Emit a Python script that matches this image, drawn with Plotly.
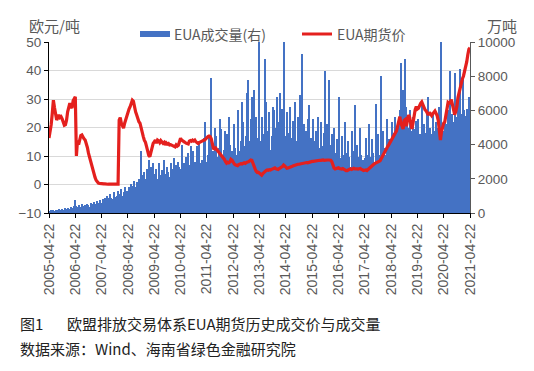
import numpy as np
import pandas as pd
import plotly.graph_objects as go

# ---------------- data (semi-monthly samples, from 2005-04-22) ----------------
start_date = "2005-04-22"

price = [  # EUA期货价, 欧元/吨
    16.3, 18.5, 21, 25, 29.6, 27, 24, 22.6, 23.5, 24.4, 23.5, 23.8, 23, 22.2, 20.8, 21, 22.6, 25.5, 27.5, 28.5, 27.5, 26.8, 29.4, 30,
    30.8, 10, 15.5, 14, 16.5, 17.2, 17.4, 16.5, 16, 15.6, 14.5, 13, 11, 9.5, 7.8, 6.2, 5, 3.7, 2.5, 1.5, 0.8, 0.5, 0.4, 0.3,
    0.3, 0.2, 0.2, 0.2, 0.1, 0.1, 0.1, 0.1, 0.1, 0.1, 0.1, 0.1, 0.1, 0.1, 0.1, 0.1, 22.6, 23.5, 21.5, 20.5, 19.8, 21.5, 23, 23.8,
    25.5, 26.5, 27.3, 28.5, 29.6, 29.2, 27, 25.5, 24.4, 23, 22, 21.5, 19.6, 18, 16.8, 15.5, 14.8, 13.3, 11, 10.2, 9.8, 11.5, 13, 14.4,
    15, 15.6, 14.5, 15.6, 15.3, 14.7, 15.4, 15, 14.5, 14.8, 13.9, 14.6, 14.2, 14.4, 13.9, 14, 13.8, 13.5, 13.3, 13.2, 13.9, 13.5, 13.8, 15,
    16.2, 15.6, 15.2, 15, 14.8, 14.5, 14.4, 14.2, 15.2, 15.4, 15.2, 15.6, 15.3, 15.6, 15, 14.6, 14.4, 14.7, 15, 15, 15.3, 15.5, 15.6, 16,
    16.5, 16.8, 17, 16.8, 16, 14, 12.7, 12.5, 12.8, 12.3, 11.8, 11.2, 11, 10.5, 9.8, 9.3, 8.8, 8, 7.5, 7.8, 7.6, 7.9, 8.8, 8.5,
    7.5, 7.2, 6.9, 6.8, 6.6, 7, 7.2, 7.3, 7.2, 7.5, 7.6, 7.4, 7.8, 7.9, 8, 8.3, 8.6, 8.5, 7.2, 6.5, 5.5, 4.6, 4.2, 4.3,
    3.9, 3.6, 3.3, 3.8, 4.3, 4.6, 4.9, 5.1, 5, 5.2, 5.1, 5.3, 5.5, 5.6, 5.8, 5.5, 5.4, 5.3, 5.6, 6, 6.1, 6.3, 6.8, 6.5,
    5.9, 5.7, 5.8, 5.9, 6.1, 6.2, 6.4, 6.6, 6.8, 6.9, 7, 7.1, 7.1, 7.2, 7.3, 7.4, 7.5, 7.5, 7.6, 7.7, 7.6, 7.8, 8, 8,
    8.1, 8.1, 8.2, 8.2, 8.3, 8.3, 8.4, 8.5, 8.5, 8.6, 8.6, 8.5, 8.6, 8.7, 8.6, 8.6, 8.5, 8.5, 8.0, 6.5, 5.8, 5.5, 5.7, 5.6,
    5.9, 5.6, 5.5, 5.4, 5.6, 5.3, 5, 4.9, 4.9, 5.2, 5.4, 5.5, 5.3, 5.6, 5.7, 5.5, 5.6, 5.5, 5.4, 5.5, 5.6, 5.3, 5, 4.9,
    5, 5.1, 4.9, 5.3, 5.8, 6.2, 6.5, 6.8, 7, 7.3, 7.5, 7.6, 7.8, 8, 8.3, 9, 9.8, 10.5, 11.2, 12.3, 13, 13.4, 14, 14.8,
    15.5, 16.2, 16.8, 17.5, 18.2, 18.8, 20.5, 22.5, 23.8, 21.5, 20, 19.5, 22.5, 22.8, 20.5, 22.5, 24.4, 23.5, 21.5, 19.5, 21.5, 25, 26.3, 27.3,
    26.5, 26.8, 27.9, 28.5, 29, 27.8, 26.8, 26.2, 25.8, 25.2, 24.4, 25.3, 24.9, 24.2, 24.8, 25.5, 25.8, 25, 24.2, 22.5, 19.5, 15.6, 18.5, 20.5,
    21.5, 22, 25, 27.3, 28.8, 28.5, 28.6, 29.8, 28, 26, 24.5, 25.5, 27.3, 30.5, 32.5, 33.5, 35.5, 37, 38, 39.5, 41.5, 43, 45.5, 47.5, 48,
]

volume = [  # EUA成交量, 万吨
    80, 120, 150, 100, 180, 140, 200, 160, 120, 220, 180, 150, 250, 200, 170, 280, 220, 300, 250, 200, 350, 300, 280, 400,
    760, 400, 350, 450, 300, 380, 500, 420, 350, 480, 400, 550, 450, 380, 600, 500, 420, 650, 550, 480, 700, 600, 520, 750,
    600, 800, 700, 900, 650, 1000, 850, 750, 1100, 900, 800, 1200, 950, 700, 1000, 1300, 900, 1100, 1400, 1000, 1200, 1500, 1100, 1300,
    1200, 1500, 1300, 1700, 1400, 1600, 1900, 1500, 1800, 1400, 2000, 1700, 3600, 2200, 1800, 2400, 2000, 2600, 2300, 3100, 2200, 2700, 2400, 2900,
    2300, 1800, 2600, 2000, 2900, 1700, 2200, 2500, 1900, 3100, 2300, 2000, 2700, 2400, 2100, 2900, 2300, 2600, 3200, 2400, 2800, 2500, 3000, 2700,
    2600, 4000, 2300, 2900, 2500, 3300, 2200, 3500, 2400, 2800, 3900, 3600, 2300, 3000, 2600, 3900, 2400, 4200, 2900, 2500, 3100, 4400, 5300, 2800,
    3000, 3400, 4500, 3200, 7900, 3100, 3600, 5000, 4500, 3300, 2700, 3800, 5500, 4900, 3400, 2900, 3700, 4800, 4600, 3500, 5600, 4000, 3300, 3600,
    3500, 5200, 3800, 3400, 6000, 3600, 3300, 4200, 6500, 5300, 3900, 3500, 4500, 7000, 7800, 4200, 5500, 6800, 4300, 7200, 4000, 5600, 3800, 4400,
    10000, 4200, 5600, 4600, 4000, 9000, 6500, 3900, 4800, 5900, 3700, 4500, 6200, 6000, 4400, 5000, 6800, 4600, 5300, 7000, 4700, 6100, 10000, 4500,
    4300, 5900, 4700, 4100, 6200, 3800, 4400, 5400, 6500, 4200, 3700, 5600, 4100, 6900, 4500, 9300, 4200, 5200, 4800, 4000, 5500, 6300, 3900, 4400,
    3900, 5500, 4200, 3700, 4800, 5600, 3800, 3400, 5300, 3600, 3900, 4700, 8300, 3800, 5200, 7800, 4000, 3400, 4600, 3300, 5000, 3500, 3200, 4300,
    3400, 6800, 3200, 4500, 2900, 3400, 5300, 2800, 3500, 4200, 3300, 2700, 4800, 2900, 3600, 6300, 3100, 4000, 3300, 3000, 5000, 3400, 3100, 2900,
    3200, 4400, 3400, 3000, 5200, 3300, 2900, 4300, 3500, 3000, 6400, 3200, 4600, 3400, 3100, 8000, 3600, 4800, 3800, 3400, 5500, 3700, 4300, 3900,
    4100, 5300, 3900, 4700, 5600, 5000, 4600, 5400, 6000, 8800, 6500, 7200, 6000, 9000, 6200, 5200, 5000, 6000, 4800, 4200, 5600, 4300, 4900, 5400,
    4400, 5500, 4600, 4200, 6300, 4500, 5200, 4700, 4300, 6000, 6800, 4400, 5000, 4600, 5800, 4800, 4500, 5300, 5000, 4600, 6200, 4900, 10000, 4700,
    4800, 5500, 5200, 4600, 6000, 4500, 8300, 4900, 5800, 5300, 8200, 5000, 5600, 6500, 5500, 8400, 5200, 5800, 8000, 6000, 5700, 6100, 5900, 6800, 6000,
]

tick_years = list(range(2005, 2022))
tick_labels = [f"{y}-04-22" for y in tick_years]

price_ticks = [-10, 0, 10, 20, 30, 40, 50]
volume_ticks = [0, 2000, 4000, 6000, 8000, 10000]

# ---------------- figure ----------------
step_days = 365.25 / 24
dates = pd.Timestamp(start_date) + pd.to_timedelta(np.arange(len(price)) * step_days, unit="D")
bar_width_ms = step_days * 86400000

W, H = 534, 371
L, R, T, B = 49, 470, 42, 213  # plot area in pixels


def px_x(p):
    return (p - L) / (R - L)


def px_y(p):
    return (B - p) / (B - T)


GRAY = "#595959"
CJK = "Noto Sans CJK SC"
NUM = "Liberation Sans, Arial, sans-serif"

fig = go.Figure()
fig.add_trace(go.Bar(
    x=dates, y=volume, yaxis="y", name="EUA成交量(右)",
    marker=dict(color="#4472C4", line=dict(width=0)),
    width=bar_width_ms, showlegend=False,
))
fig.add_trace(go.Scatter(
    x=dates, y=price, yaxis="y2", mode="lines", name="EUA期货价",
    line=dict(color="#E4201E", width=3.2), showlegend=False,
))

fig.update_layout(
    width=W, height=H,
    margin=dict(l=L, r=W - R, t=T, b=H - B, pad=0),
    paper_bgcolor="white", plot_bgcolor="white",
    bargap=0,
    xaxis=dict(
        type="date", range=[tick_labels[0], tick_labels[-1]],
        tickvals=tick_labels, ticktext=tick_labels, tickangle=-90,
        ticks="outside", ticklen=4, tickcolor="#000", tickwidth=1,
        showline=True, linecolor="#000", linewidth=1, showgrid=False,
        tickfont=dict(family=NUM, size=14, color=GRAY),
    ),
    yaxis=dict(
        side="right", range=[0, 10000], tickvals=volume_ticks,
        ticktext=[str(v) for v in volume_ticks],
        showgrid=False, zeroline=False, showline=True, linecolor=GRAY, linewidth=1,
        ticks="outside", ticklen=4, tickcolor=GRAY,
        tickfont=dict(family=NUM, size=13.5, color=GRAY),
    ),
    yaxis2=dict(
        overlaying="y", side="left", range=[-10, 50], tickvals=price_ticks,
        showgrid=True, gridcolor="#D9D9D9", gridwidth=1, zeroline=False,
        showline=True, linecolor="#000", linewidth=1,
        ticks="outside", ticklen=4, tickcolor="#000",
        tickfont=dict(family=NUM, size=13.5, color=GRAY),
    ),
)

annotations = [
    dict(text="欧元/吨", x=px_x(27), y=px_y(25), xanchor="left", yanchor="middle",
         font=dict(family=CJK, size=15, color=GRAY)),
    dict(text="万吨", x=px_x(485), y=px_y(25), xanchor="left", yanchor="middle",
         font=dict(family=CJK, size=15, color=GRAY)),
    dict(text="EUA成交量(右)", x=px_x(172), y=px_y(34), xanchor="left", yanchor="middle",
         font=dict(family=CJK, size=14, color=GRAY)),
    dict(text="EUA期货价", x=px_x(335), y=px_y(34), xanchor="left", yanchor="middle",
         font=dict(family=CJK, size=14, color=GRAY)),
    dict(text="图1", x=px_x(18), y=px_y(323), xanchor="left", yanchor="middle",
         font=dict(family=CJK, size=15, color="#222")),
    dict(text="欧盟排放交易体系EUA期货历史成交价与成交量", x=px_x(65), y=px_y(323),
         xanchor="left", yanchor="middle", font=dict(family=CJK, size=15, color="#222")),
    dict(text="数据来源：Wind、海南省绿色金融研究院", x=px_x(18), y=px_y(348),
         xanchor="left", yanchor="middle", font=dict(family=CJK, size=15, color="#222")),
]
for a in annotations:
    a.update(xref="paper", yref="paper", showarrow=False)
fig.update_layout(annotations=annotations)

fig.update_layout(shapes=[
    dict(type="rect", xref="paper", yref="paper", x0=px_x(140), x1=px_x(170),
         y0=px_y(37), y1=px_y(31), fillcolor="#4472C4", line=dict(width=0)),
    dict(type="line", xref="paper", yref="paper", x0=px_x(302), x1=px_x(332),
         y0=px_y(34), y1=px_y(34), line=dict(color="#E4201E", width=3)),
])

# remove the page's default 8px body margin so the figure sits at the window origin
fig.write_html("out.html", config={"displayModeBar": False},
               post_script="document.body.style.margin='0';")
